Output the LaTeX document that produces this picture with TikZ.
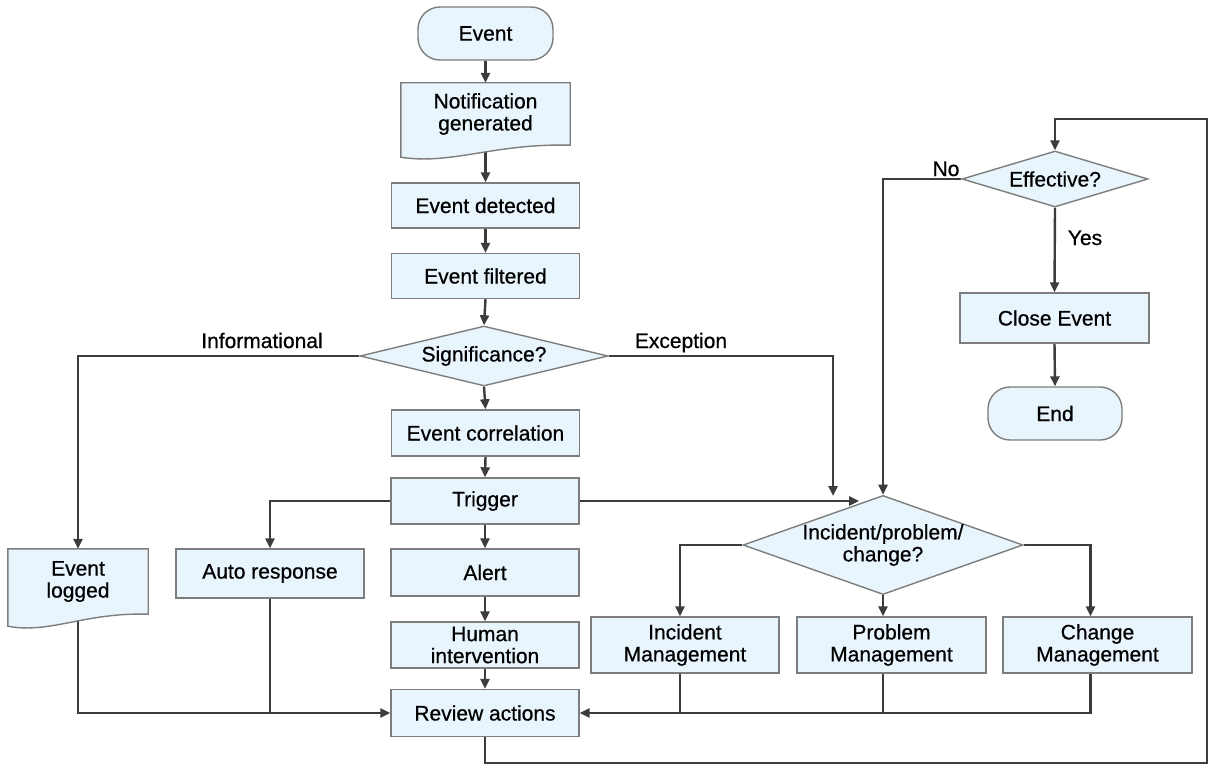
\documentclass[tikz,border=0pt]{standalone}
\usepackage{fontspec}
\setmainfont{Liberation Sans}[BoldFont=Liberation Sans, BoldFeatures={FakeBold=0.6}]
\usetikzlibrary{shapes.geometric,arrows.meta,calc,backgrounds}
\definecolor{boxfill}{RGB}{233,245,252}
\definecolor{boxline}{RGB}{125,125,125}
\definecolor{conn}{RGB}{60,60,60}
\newcommand{\docshape}[2]{%
  \path[base] (#1.north west) -- (#1.north east) -- (#1.south east)
    .. controls ($(#1.south west)+(0.55*#2,-2)$) and ($(#1.south west)+(0.3*#2,20)$)
    .. ($(#1.south west)+(0,12)$) -- cycle;}
\begin{document}
\begin{tikzpicture}[x=1pt,y=-1pt,
  font=\fontsize{21}{22}\selectfont\bfseries,
  base/.style={draw=boxline, fill=boxfill, line width=1.4pt},
  proc/.style={base, rectangle, align=center, inner sep=0pt, minimum width=188pt, minimum height=46pt},
  term/.style={base, rectangle, rounded corners=22pt, align=center, inner sep=0pt, minimum width=135pt, minimum height=53pt},
  docnode/.style={rectangle, draw=none, fill=none, align=center, inner sep=0pt},
  dec/.style={base, diamond, align=center, inner sep=0pt, aspect=#1},
  arr/.style={draw=conn, line width=2.4pt, -{Triangle[length=10pt,width=9pt]}},
  ln/.style={draw=conn, line width=2.4pt},
  lbl/.style={inner sep=0pt}]
\useasboundingbox (0,0) rectangle (1213,765);

% main column
\node[term] (ev) at (485.5,33.5) {Event};
\node[docnode, minimum width=169pt, minimum height=62pt] (notif) at (485.5,114) {Notification\\generated};
\node[proc, minimum height=45pt] (det) at (485.5,205.5) {Event detected};
\node[proc, minimum height=45pt] (filt) at (485.5,276) {Event filtered};
\node[dec=4, minimum width=248pt, minimum height=60pt] (sig) at (484,356) {Significance?};
\node[proc] (corr) at (485.5,433) {Event correlation};
\node[proc] (trig) at (485,501) {Trigger};
\node[proc, minimum height=47pt] (alert) at (485,572.5) {Alert};
\node[proc] (human) at (485,645) {Human\\intervention};
\node[proc, minimum height=47pt] (review) at (485,713) {Review actions};

% left branch
\node[docnode, minimum width=140pt, minimum height=65pt] (logged) at (78,581.5) {Event\\logged};
\node[proc, minimum height=49pt] (auto) at (270,573.5) {Auto response};

% right branch
\node[dec=2.8, minimum width=280pt, minimum height=96pt] (inc) at (883,545) {Incident/problem/\\change?};
\node[proc, minimum height=56pt] (incm) at (685,645) {Incident\\Management};
\node[proc, minimum width=189pt, minimum height=56pt] (probm) at (891.5,645) {Problem\\Management};
\node[proc, minimum width=189pt, minimum height=56pt] (chgm) at (1097.5,645) {Change\\Management};

% top right
\node[dec=3.5, minimum width=186pt, minimum height=56pt] (eff) at (1055,179) {Effective?};
\node[proc, minimum width=189pt, minimum height=50pt] (close) at (1054.5,318) {Close Event};
\node[term, minimum width=134pt] (endn) at (1055,413.5) {End};

% labels
\node[lbl, anchor=base] (linfo) at (262,348) {Informational};
\node[lbl, anchor=base] (lexc) at (681,348) {Exception};
\node[lbl, anchor=base] (lno) at (946,176) {No};
\node[lbl, anchor=base] (lyes) at (1085,245) {Yes};

% free ends
\coordinate (excend) at (833,496);
\coordinate (trigend) at (859,501);
\coordinate (br) at (1207,763);
\coordinate (tr) at (1207,119);

\begin{pgfonlayer}{background}
\draw[arr] (ev.south) -- (notif.north);
\draw[arr] (notif.south) -- (det.north);
\draw[arr] (det.south) -- (filt.north);
\draw[arr] (filt.south) -- (sig.north);
\draw[arr] (sig.south) -- (corr.north);
\draw[arr] (corr.south) -- (trig.north);
\draw[arr] (trig.south) -- (alert.north);
\draw[arr] (alert.south) -- (human.north);
\draw[arr] (human.south) -- (review.north);
\draw[arr] (sig.west) -| (logged.north);
\draw[arr] (sig.east) -| (excend);
\draw[arr] (trig.west) -| (auto.north);
\draw[arr] (trig.east) -- (trigend);
\draw[arr] (inc.west) -| ([xshift=-5pt]incm.north);
\draw[arr] (inc.south) -- (inc.south |- probm.north);
\draw[arr] (inc.east) -| ([xshift=-7pt]chgm.north);
\draw[arr] ([xshift=-7pt]chgm.south) |- (review.east);
\draw[ln] ([xshift=-5pt]incm.south) -- ([xshift=-5pt]incm.south |- review.east);
\draw[ln] (inc.south |- probm.south) -- (inc.south |- review.east);
\draw[arr] (logged.south) |- (review.west);
\draw[ln] (auto.south) -- (auto.south |- review.west);
\draw[arr] (review.south) |- (br) -- (tr) -| (eff.north);
\draw[arr] (eff.west) -| (inc.north);
\draw[arr] (eff.south) -- (close.north);
\draw[arr] (close.south) -- (endn.north);
\docshape{notif}{169}
\docshape{logged}{140}
\end{pgfonlayer}
\end{tikzpicture}
\end{document}
